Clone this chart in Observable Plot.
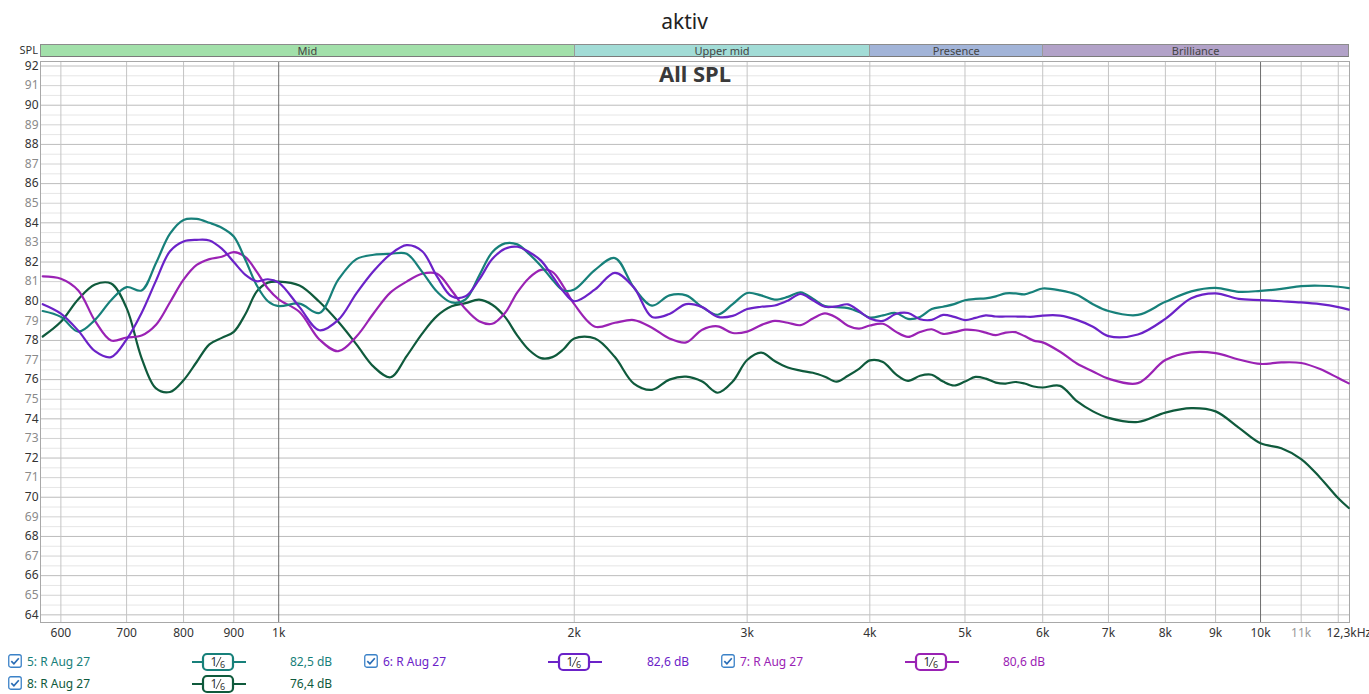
<!DOCTYPE html>
<html>
<head>
<meta charset="utf-8">
<script src="https://cdn.jsdelivr.net/npm/d3@7"></script>
<script src="https://cdn.jsdelivr.net/npm/@observablehq/plot@0.6"></script>
<style>
  html, body { margin: 0; padding: 0; background: #fff; }
  body { width: 1369px; height: 694px; overflow: hidden; font-family: "Noto Sans", sans-serif; }
  #wrap { position: relative; width: 1369px; height: 694px; }
  #chart { position: absolute; left: 0; top: 0; }
  .abs { position: absolute; white-space: nowrap; }
</style>
</head>
<body>
<div id="wrap">
  <div id="chart"></div>
</div>
<script>
// ---- Data ----
const freq = [575, 600, 625, 650, 675, 700, 725, 750, 775, 800, 825, 850, 875, 900, 925, 950, 975,
  1000, 1050, 1100, 1150, 1200, 1250, 1300, 1350, 1400, 1450, 1500, 1550, 1600, 1650, 1700, 1750, 1800, 1850, 1900, 1950,
  2000, 2100, 2200, 2300, 2400, 2500, 2600, 2700, 2800, 2900, 3000, 3100, 3200, 3300, 3400, 3500, 3600, 3700, 3800, 3900,
  4000, 4125, 4250, 4375, 4500, 4625, 4750, 4875, 5000, 5125, 5250, 5375, 5500, 5625, 5750, 5875, 6000,
  6250, 6500, 6750, 7000, 7500, 8000, 8500, 9000, 9500, 10000, 10500, 11000, 11500, 12000, 12300];

const spl5 = [79.5, 79.2, 78.45, 79.05, 80.05, 80.72, 80.55, 81.95, 83.45, 84.15, 84.2, 84.0, 83.75, 83.3, 82.1, 80.8, 80.0,
  79.75, 79.88, 79.4, 81.1, 82.15, 82.37, 82.42, 82.42, 81.5, 80.48, 79.94, 80.1, 81.3, 82.5, 82.95, 82.9, 82.4, 81.8, 81.1, 80.55,
  80.6, 81.6, 82.2, 80.7, 79.78, 80.3, 80.3, 79.7, 79.31, 79.85, 80.42, 80.3, 80.08, 80.22, 80.45, 80.13, 79.75, 79.7, 79.65, 79.45,
  79.17, 79.28, 79.4, 79.1, 79.2, 79.6, 79.72, 79.85, 80.05, 80.12, 80.15, 80.25, 80.4, 80.4, 80.35, 80.5, 80.65,
  80.55, 80.33, 79.85, 79.5, 79.3, 79.97, 80.5, 80.68, 80.48, 80.53, 80.63, 80.77, 80.79, 80.74, 80.67];

const spl6 = [79.85, 79.37, 78.5, 77.45, 77.15, 78.05, 79.4, 81.05, 82.55, 83.05, 83.13, 83.1, 82.68, 82.0, 81.35, 81.02, 81.12,
  80.95, 79.7, 78.52, 79.05, 80.4, 81.55, 82.4, 82.86, 82.55, 81.25, 80.25, 80.25, 81.1, 82.15, 82.68, 82.78, 82.5, 82.07, 81.28, 80.5,
  80.0, 80.6, 81.45, 80.7, 79.2, 79.35, 79.85, 79.7, 79.2, 79.25, 79.6, 79.72, 79.78, 80.03, 80.37, 80.05, 79.72, 79.74, 79.84, 79.5,
  79.12, 79.0, 79.35, 79.4, 79.08, 79.05, 79.3, 79.2, 79.04, 79.15, 79.28, 79.22, 79.22, 79.22, 79.21, 79.21, 79.27,
  79.27, 79.05, 78.7, 78.22, 78.3, 79.1, 80.15, 80.4, 80.12, 80.06, 80.0, 79.94, 79.85, 79.7, 79.57];

const spl7 = [81.27, 81.15, 80.55, 79.0, 78.0, 78.15, 78.25, 78.8, 79.95, 81.1, 81.85, 82.15, 82.27, 82.5, 82.25, 81.5, 80.65,
  80.1, 79.45, 78.05, 77.45, 78.2, 79.4, 80.45, 81.0, 81.4, 81.4, 80.55, 79.6, 78.98, 78.85, 79.4, 80.45, 81.2, 81.6, 81.5, 80.75,
  79.85, 78.7, 78.9, 79.04, 78.65, 78.1, 77.9, 78.55, 78.72, 78.38, 78.45, 78.78, 79.0, 78.9, 78.78, 79.12, 79.38, 79.16, 78.75, 78.6,
  78.76, 78.85, 78.45, 78.18, 78.43, 78.57, 78.33, 78.42, 78.55, 78.52, 78.4, 78.27, 78.4, 78.42, 78.22, 77.99, 77.9,
  77.42, 76.82, 76.42, 76.05, 75.82, 77.0, 77.39, 77.35, 77.03, 76.8, 76.88, 76.85, 76.54, 76.08, 75.81];

const spl8 = [78.2, 78.95, 80.1, 80.85, 80.9, 79.65, 77.1, 75.55, 75.37, 75.97, 76.9, 77.8, 78.13, 78.44, 79.35, 80.5, 80.95,
  81.0, 80.8, 79.97, 78.95, 77.8, 76.65, 76.12, 77.2, 78.35, 79.25, 79.74, 79.9, 80.08, 79.82, 79.2, 78.25, 77.5, 77.1, 77.15, 77.55,
  78.1, 78.1, 77.15, 75.8, 75.48, 76.0, 76.15, 75.9, 75.33, 75.9, 77.0, 77.38, 76.95, 76.62, 76.46, 76.35, 76.15, 75.9, 76.2, 76.55,
  76.98, 76.9, 76.28, 75.94, 76.2, 76.25, 75.9, 75.7, 75.9, 76.14, 76.05, 75.85, 75.8, 75.88, 75.8, 75.65, 75.6,
  75.68, 74.9, 74.38, 74.05, 73.84, 74.32, 74.55, 74.38, 73.55, 72.75, 72.5, 71.95, 71.0, 69.95, 69.45];

const seriesNames = ["5: R Aug 27", "6: R Aug 27", "7: R Aug 27", "8: R Aug 27"];
const seriesColors = ["#17807a", "#6b22c8", "#9a22b4", "#0f5a3c"];
const seriesLevels = ["82,5 dB", "82,6 dB", "80,6 dB", "76,4 dB"];
const seriesValues = [spl5, spl6, spl7, spl8];

const bandNames = ["Mid", "Upper mid", "Presence", "Brilliance"];
const bandEdges = [572, 2000, 4000, 6000, 12320];
const bandColors = ["#a2e0aa", "#a2dcd6", "#a2b4d8", "#b2a2c8"];

const xTickValues = [600, 700, 800, 900, 1000, 2000, 3000, 4000, 5000, 6000, 7000, 8000, 9000, 10000, 12300];
const xTickLabels = ["600", "700", "800", "900", "1k", "2k", "3k", "4k", "5k", "6k", "7k", "8k", "9k", "10k", "12,3kHz"];
const xGrayTick = [11000];
const xGrayLabel = ["11k"];
const xMinorGrid = [600, 700, 800, 900, 2000, 3000, 4000, 5000, 6000, 7000, 8000, 9000, 11000, 12000];
const xMajorGrid = [1000, 10000];

const yEven = d3.range(64, 93, 2);
const yOdd = d3.range(65, 92, 2);
const yHalf = d3.range(64.5, 92, 1);

// ---- Build table ----
const rows = [];
seriesValues.forEach((vals, i) => {
  vals.forEach((v, j) => rows.push({ s: i, f: freq[j], v }));
});

const drawOrder = [3, 2, 0, 1];
const lineMarks = drawOrder.map(i =>
  Plot.line(rows.filter(r => r.s === i), {
    x: "f", y: "v", stroke: seriesColors[i], strokeWidth: 2.2, curve: "catmull-rom"
  })
);

const chart = Plot.plot({
  width: 1369,
  height: 645,
  marginTop: 61,
  marginBottom: 23,
  marginLeft: 40,
  marginRight: 20,
  style: { fontFamily: "Noto Sans, sans-serif", fontSize: "12px", background: "white", overflow: "visible" },
  x: { type: "log", domain: [572, 12320] },
  y: { domain: [63.61, 92.23] },
  marks: [
    Plot.ruleY(yHalf, { stroke: "#e6e6e6", strokeWidth: 1 }),
    Plot.ruleY(yOdd, { stroke: "#d2d2d2", strokeWidth: 1 }),
    Plot.ruleY(yEven, { stroke: "#bcbcbc", strokeWidth: 1 }),
    Plot.ruleX(xMinorGrid, { stroke: "#c4c4c4", strokeWidth: 1 }),
    Plot.ruleX(xMajorGrid, { stroke: "#6e6e6e", strokeWidth: 1 }),
    Plot.frame({ stroke: "#a8a8a8" }),
    Plot.axisY(yEven, { tickSize: 0, tickPadding: 2, fill: "#333", label: null, fontSize: 12 }),
    Plot.axisY(yOdd, { tickSize: 0, tickPadding: 2, fill: "#8a8a8a", label: null, fontSize: 12 }),
    Plot.axisX(xTickValues, { tickSize: 0, tickPadding: 6, fill: "#333", label: null, fontSize: 12,
      tickFormat: d => xTickLabels[xTickValues.indexOf(d)] }),
    Plot.axisX(xGrayTick, { tickSize: 0, tickPadding: 6, fill: "#999", label: null, fontSize: 12,
      tickFormat: d => xGrayLabel[xGrayTick.indexOf(d)] }),
    ...lineMarks,
    Plot.text(["All SPL"], { frameAnchor: "top", dy: 5, fontSize: 22, fontWeight: "bold", fill: "#3a3a3a" })
  ]
});

const wrap = document.getElementById("wrap");
document.getElementById("chart").appendChild(chart);
const sx = chart.scale("x");

function addDiv(html, css) {
  const d = document.createElement("div");
  d.className = "abs";
  d.innerHTML = html;
  Object.assign(d.style, css);
  wrap.appendChild(d);
  return d;
}

// Title
addDiv("aktiv", { left: "0px", width: "1369px", top: "7px", textAlign: "center", fontSize: "21px", color: "#222" });

// SPL label
addDiv("SPL", { left: "0px", width: "38px", top: "42px", textAlign: "right", fontSize: "11px", color: "#333" });

// Band bar
bandNames.forEach((name, i) => {
  const x0 = sx.apply(bandEdges[i]);
  const x1 = sx.apply(bandEdges[i + 1]);
  addDiv(name, {
    left: x0 + "px", width: (x1 - x0) + "px", top: "44px", height: "13px",
    background: bandColors[i], boxSizing: "border-box",
    borderTop: "1px solid #8c8c8c", borderBottom: "1px solid #7a7a7a",
    borderLeft: i === 0 ? "1px solid #8c8c8c" : "1px solid #9a9a9a",
    borderRight: i === 3 ? "1px solid #8c8c8c" : "none",
    textAlign: "center", fontSize: "11px", lineHeight: "11px", color: "#444"
  });
});

// Legend
const checkSvg = `<svg width="14" height="14" viewBox="0 0 14 14"><rect x="0.75" y="0.75" width="12.5" height="12.5" rx="2" fill="#fff" stroke="#3b82c8" stroke-width="1.3"/><path d="M3.3 7.2 L5.9 9.8 L10.8 4.2" fill="none" stroke="#2a6db5" stroke-width="1.7"/></svg>`;
function iconSvg(color) {
  return `<svg width="54" height="20" viewBox="0 0 54 20">` +
    `<line x1="0" y1="10" x2="54" y2="10" stroke="${color}" stroke-width="2.2"/>` +
    `<rect x="11" y="2" width="30" height="16" rx="4" fill="#fff" stroke="${color}" stroke-width="2.2"/>` +
    `<text x="22" y="14" text-anchor="middle" font-family="Noto Sans" font-size="12" fill="#333">1</text>` +
    `<line x1="24" y1="15" x2="29" y2="5" stroke="#333" stroke-width="0.9"/>` +
    `<text x="30.5" y="16" text-anchor="middle" font-family="Noto Sans" font-size="9" fill="#333">6</text>` +
    `</svg>`;
}
const legendPos = [
  { cx: 15, tx: 27, ix: 192, lx: 290, y: 662 },
  { cx: 371, tx: 383, ix: 548, lx: 647, y: 662 },
  { cx: 728, tx: 740, ix: 905, lx: 1003, y: 662 },
  { cx: 15, tx: 27, ix: 192, lx: 290, y: 684 }
];
seriesNames.forEach((name, i) => {
  const p = legendPos[i];
  addDiv(checkSvg, { left: (p.cx - 7) + "px", top: (p.y - 8) + "px", lineHeight: "0" });
  addDiv(name, { left: p.tx + "px", top: (p.y - 9) + "px", fontSize: "12px", color: seriesColors[i] });
  addDiv(iconSvg(seriesColors[i]), { left: p.ix + "px", top: (p.y - 10) + "px", lineHeight: "0" });
  addDiv(seriesLevels[i], { left: p.lx + "px", top: (p.y - 9) + "px", fontSize: "12px", color: seriesColors[i] });
});
</script>
</body>
</html>
